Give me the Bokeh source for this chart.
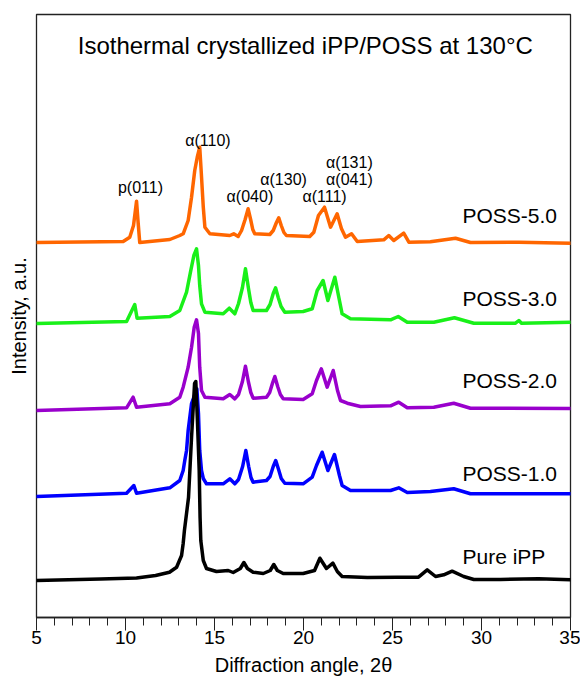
from bokeh.plotting import figure
from bokeh.models import Range1d, SingleIntervalTicker, FixedTicker, Label
from bokeh.embed import file_html
from bokeh.resources import INLINE

# ---------------- data ----------------
series_names = ["Pure iPP", "POSS-1.0", "POSS-2.0", "POSS-3.0", "POSS-5.0"]
series_colors = ["#000000", "#0000FF", "#9900CC", "#19F019", "#FF6600"]
offsets = [37, 121, 207, 294, 375]

tt_pure = [5.0, 8.6, 10.62, 11.69, 12.47, 12.87, 13.15, 13.24, 13.31, 13.54, 13.71, 13.88, 13.95,
           14.04, 14.14, 14.19, 14.23, 14.37, 14.55, 15.11, 15.77, 16.05, 16.45, 16.65, 16.85,
           17.17, 17.74, 18.13, 18.33, 18.53, 18.86, 19.98, 20.62, 20.92, 21.29, 21.65, 21.9,
           22.17, 23.58, 25.26, 26.46, 26.95, 27.42, 27.88, 28.35, 29.0, 29.57, 31.07, 33.2, 35.0]
int_pure = [0, 1.5, 2.5, 5, 8.3, 13.3, 25, 37, 50, 83, 143, 197, 199,
            160, 110, 63, 40, 20, 12, 9, 10, 8, 12, 18, 12,
            8.3, 7, 10, 16, 10, 7, 7, 10, 22.3, 12, 17.3, 9,
            4, 3, 3.3, 3.3, 10.7, 4, 5.7, 9.3, 4, 1, 1, 1.7, 0.7]

tt_p1 = [5.0, 10.06, 10.47, 10.62, 12.49, 13.05, 13.24, 13.33, 13.43, 13.52, 13.71, 14.01,
         14.1, 14.17, 14.27, 14.37, 14.55, 15.49, 15.86, 16.14, 16.35, 16.58, 16.76, 16.92,
         17.05, 17.17, 17.92, 18.12, 18.3, 18.44, 18.6, 18.75, 18.95, 19.98, 20.49, 20.73,
         21.05, 21.37, 21.74, 22.02, 22.17, 22.64, 24.89, 25.35, 25.83, 27.13, 28.44, 29.38, 35.0]
int_p1 = [0, 3.3, 11, 3.3, 8.7, 16, 26, 36, 46, 66, 93, 107.7,
          83, 46, 26, 18, 12.7, 12.7, 17.7, 12.7, 17, 30, 46, 30,
          19, 14.3, 16, 20, 30, 36, 27, 18, 13.3, 12.7, 19.3, 31,
          44.3, 26, 42, 21, 11, 6, 6, 8.7, 4, 5, 7.7, 2.7, 2.7]

tt_p2 = [5.0, 10.06, 10.43, 10.62, 12.49, 13.05, 13.24, 13.52, 13.71, 13.86, 13.99, 14.1,
         14.17, 14.27, 14.46, 15.49, 15.86, 16.14, 16.35, 16.57, 16.74, 16.9, 17.04, 17.17,
         17.92, 18.1, 18.27, 18.39, 18.55, 18.7, 18.86, 19.98, 20.49, 20.73, 21.0, 21.33,
         21.67, 21.91, 22.08, 22.46, 23.2, 24.89, 25.35, 25.83, 27.32, 28.44, 29.38, 35.0]
int_p2 = [0, 2.7, 13.3, 3.3, 6.7, 13.3, 23.3, 43.3, 63.3, 83.3, 90.7, 77,
          43.3, 20, 13.3, 11.7, 16, 11.7, 16, 29, 44.3, 29, 18, 12.3,
          13.3, 18, 28, 34, 24, 16, 11.7, 11, 16.7, 30, 41.7, 23.3,
          40, 20, 10, 7.3, 4, 4.7, 8.3, 2.7, 3.3, 7.3, 2.3, 2]

tt_p3 = [5.0, 10.06, 10.52, 10.65, 12.49, 13.05, 13.43, 13.65, 13.84, 13.99, 14.1, 14.17,
         14.27, 14.46, 15.49, 15.83, 16.14, 16.35, 16.57, 16.74, 16.9, 17.04, 17.17, 17.92,
         18.12, 18.3, 18.43, 18.58, 18.74, 18.95, 19.98, 20.49, 20.77, 21.1, 21.37, 21.76,
         22.02, 22.17, 22.64, 24.89, 25.32, 25.83, 27.32, 28.48, 29.57, 31.91, 32.1, 32.25, 35.0]
int_p3 = [0, 2, 19, 5.3, 7, 13, 31.3, 51.3, 68, 74.7, 58, 38,
          19.7, 11.3, 9.7, 15.3, 9.7, 20, 36, 54.7, 36, 21, 13, 13,
          19, 30, 35.7, 26, 17, 11.3, 12, 14.7, 33, 43, 23, 46.3,
          23, 9.7, 4.7, 3.7, 7, 1.3, 1.3, 5.7, 0.3, 0.3, 3, 0.3, 1.3]

tt_p5 = [5.0, 9.87, 10.24, 10.45, 10.62, 10.7, 10.8, 12.49, 13.05, 13.24, 13.52, 13.71,
         13.89, 14.03, 14.17, 14.25, 14.37, 14.46, 14.74, 15.86, 16.08, 16.33, 16.52, 16.72,
         16.89, 17.03, 17.15, 17.26, 18.11, 18.3, 18.48, 18.61, 18.75, 18.9, 19.04, 20.35,
         20.58, 20.84, 21.18, 21.52, 21.89, 22.13, 22.36, 22.7, 23.02, 24.51, 24.79, 25.07,
         25.63, 25.92, 27.13, 28.54, 29.38, 32.1, 35.0]
int_p5 = [0, 1, 5.3, 17, 41.3, 22, 0, 3, 7, 8.7, 22, 45.3,
          72, 85.3, 95.3, 72, 35.3, 15.3, 8.7, 7, 8.7, 6, 12, 23,
          33.7, 23, 13, 8.7, 8, 12, 20, 24.7, 17, 10, 7, 6,
          10.3, 27, 35.3, 15.3, 28.7, 14, 5.3, 8.7, 1, 2.7, 7, 2,
          9.3, 0.3, 0.7, 4.3, 0, 0.3, -0.7]

series_tt = [tt_pure, tt_p1, tt_p2, tt_p3, tt_p5]
series_int = [int_pure, int_p1, int_p2, int_p3, int_p5]

peak_labels = ["p(011)", "\u03b1(110)", "\u03b1(040)", "\u03b1(130)", "\u03b1(111)", "\u03b1(041)", "\u03b1(131)"]
peak_label_x = [10.84, 14.63, 16.99, 18.88, 21.18, 22.58, 22.58]
peak_label_y = [430, 477, 421, 438, 421, 438, 455]

name_label_x = 28.93
name_label_y = [61, 144, 237, 319, 402]

title_text = "Isothermal crystallized iPP/POSS at 130\u00b0C"
x_title = "Diffraction angle, 2\u03b8"
y_title = "Intensity, a.u."

FONT = "Liberation Sans"

p = figure(width=580, height=684, x_range=Range1d(5, 35), y_range=Range1d(0, 603),
           output_backend="svg", toolbar_location=None,
           min_border_left=36, min_border_right=10, min_border_top=14, min_border_bottom=67)
p.background_fill_color = "white"
p.border_fill_color = "white"
p.outline_line_color = "#222222"
p.outline_line_width = 1.3
p.xgrid.visible = False
p.ygrid.visible = False

ax = p.xaxis[0]
ax.ticker = SingleIntervalTicker(interval=5, num_minor_ticks=5)
ax.major_tick_in = 0
ax.major_tick_out = 13
ax.minor_tick_in = 0
ax.minor_tick_out = 8
ax.axis_line_color = "#222222"
ax.axis_line_width = 1.3
ax.major_tick_line_color = "#222222"
ax.minor_tick_line_color = "#222222"
ax.major_label_text_font = FONT
ax.major_label_text_font_size = "19px"
ax.major_label_text_color = "black"
ax.major_label_standoff = 0
ax.axis_label = x_title
ax.axis_label_text_font = FONT
ax.axis_label_text_font_size = "20px"
ax.axis_label_text_font_style = "normal"
ax.axis_label_text_color = "black"
ax.axis_label_standoff = 7

ay = p.yaxis[0]
ay.ticker = FixedTicker(ticks=[])
ay.major_tick_line_color = None
ay.minor_tick_line_color = None
ay.axis_line_color = None
ay.axis_label = y_title
ay.axis_label_text_font = FONT
ay.axis_label_text_font_size = "20px"
ay.axis_label_text_font_style = "normal"
ay.axis_label_text_color = "black"
ay.axis_label_standoff = 7

# draw order: top curves first, black last
for idx in [4, 3, 2, 1, 0]:
    ys = [v + offsets[idx] for v in series_int[idx]]
    p.line(series_tt[idx], ys, line_color=series_colors[idx], line_width=3.5,
           line_join="round", line_cap="round")

for t, x, y in zip(peak_labels, peak_label_x, peak_label_y):
    p.add_layout(Label(x=x, y=y, text=t, text_font=FONT, text_font_size="16px",
                       text_align="center", text_baseline="middle", text_color="black"))

for name, y in zip(series_names, name_label_y):
    p.add_layout(Label(x=name_label_x, y=y, text=name, text_font=FONT, text_font_size="21px",
                       text_align="left", text_baseline="alphabetic", text_color="black"))

p.add_layout(Label(x=20.1, y=572, text=title_text, text_font=FONT, text_font_size="24px",
                   text_align="center", text_baseline="middle", text_color="black"))

open("out.html", "w").write(file_html(p, INLINE))
